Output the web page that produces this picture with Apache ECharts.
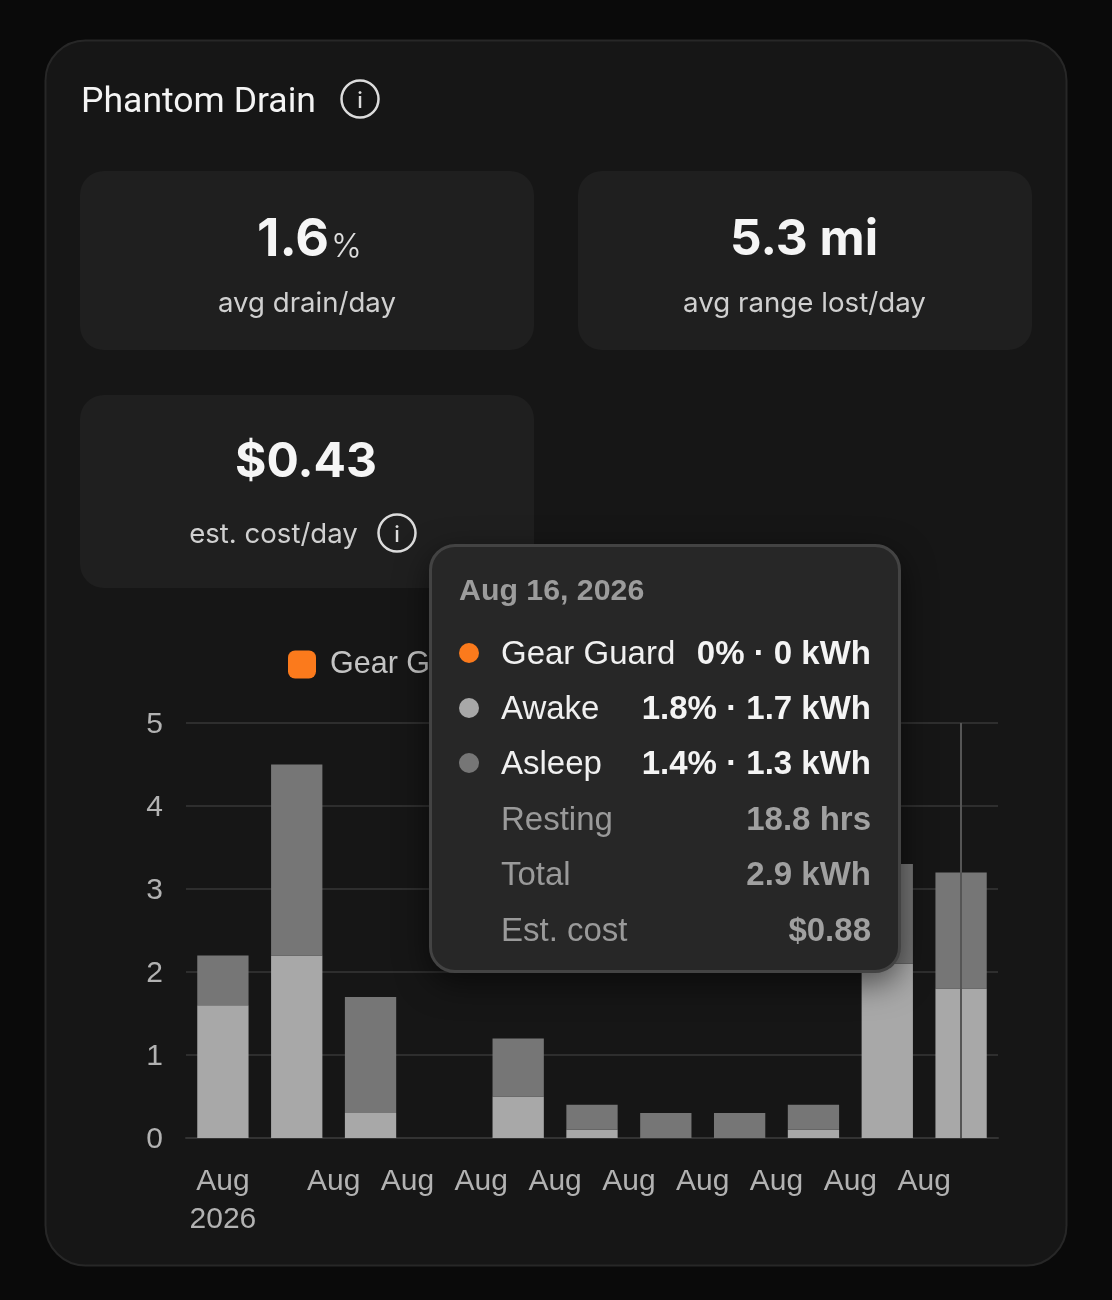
<!DOCTYPE html>
<html><head><meta charset="utf-8">
<style>html,body{margin:0;padding:0;background:#0a0a0a}#c{width:1112px;height:1300px}</style>
<script src="https://cdn.jsdelivr.net/npm/echarts@6/dist/echarts.min.js"></script>
</head><body><div id="c"></div>
<script>
const categories = ["Aug 6","Aug 7","Aug 8","Aug 9","Aug 10","Aug 11","Aug 12","Aug 13","Aug 14","Aug 15","Aug 16"];
const gearGuard = [0,0,0,0,0,0,0,0,0,0,0];
const awake  = [1.6,2.2,0.3,0,0.5,0.1,0,0,0.1,2.1,1.8];
const asleep = [0.6,2.3,1.4,0,0.7,0.3,0.3,0.3,0.3,1.2,1.4];
const centerTicks = ["Aug\n2026","","","","","","","","","",""];
const edgeTicks = ["","","Aug","Aug","Aug","Aug","Aug","Aug","Aug","Aug","Aug",""];
const seriesNames = ["Gear Guard","Awake","Asleep"];
const seriesColors = ["#fb7a1c","#a8a8a8","#767676"];
const tipDate = "Aug 16, 2026";
const tipKwh = ["0","1.7","1.3"];
const tipPct = [gearGuard[10],awake[10],asleep[10]];
const tipExtra = [["Resting","18.8 hrs"],["Total","2.9 kWh"],["Est. cost","$0.88"]];

const SANS = '"Liberation Sans", Arial, sans-serif';
const INTER = 'Inter, sans-serif';

function box(x,y,w,h,r,fill,stroke,lw){
  return {type:'rect',z:-10,silent:true,shape:{x,y,width:w,height:h,r},style:{fill,stroke:stroke||null,lineWidth:lw||0}};
}
function txt(x,y,text,font,fill,align){
  return {type:'text',z:-5,silent:true,style:{x,y,text,font,fill,align:align||'center',verticalAlign:'middle'}};
}
function info(cx,cy){
  return [
    {type:'circle',z:-5,silent:true,shape:{cx,cy,r:18.5},style:{fill:'none',stroke:'#dcdcdc',lineWidth:2.5}},
    txt(cx,cy+2,'i','500 22px '+INTER,'#dcdcdc')
  ];
}
const graphicEls = [
  box(45.5,40.5,1021,1225,40,'#161616','#272727',2),
  box(80,171,454,179,24,'#1f1f1f'),
  box(578,171,454,179,24,'#1f1f1f'),
  box(80,395,454,193,24,'#1f1f1f'),
  txt(81,103,'Phantom Drain','400 35.6px Roboto, sans-serif','#f4f4f4','left'),
  ...info(360,99),
  txt(329,240,'1.6','700 52px '+INTER,'#f5f5f5','right'),
  txt(331,247,'%','300 33px '+INTER,'#e0e0e0','left'),
  txt(307,304,'avg drain/day','400 27.6px '+INTER,'#d0d0d0'),
  txt(804,240,'5.3 mi','700 49.5px '+INTER,'#f5f5f5'),
  txt(804.5,304,'avg range lost/day','400 27.7px '+INTER,'#d0d0d0'),
  txt(306,463,'$0.43','700 48px '+INTER,'#f5f5f5'),
  txt(273.5,535,'est. cost/day','400 27.6px '+INTER,'#d0d0d0'),
  ...info(397,533)
];

function tipHtml(){
  const rows = seriesNames.map((n,i)=>
    `<div style="display:flex;align-items:center;height:55.4px">
       <span style="width:20px;height:20px;border-radius:50%;background:${seriesColors[i]};margin-right:22px;flex:none"></span>
       <span style="color:#f0f0f0;font-weight:400;flex:1">${n}</span>
       <span style="color:#f4f4f4;font-weight:700">${tipPct[i]}% · ${tipKwh[i]} kWh</span>
     </div>`).join('');
  const extra = tipExtra.map(r=>
    `<div style="display:flex;align-items:center;height:55.4px;padding-left:42px">
       <span style="color:#9a9a9a;flex:1">${r[0]}</span>
       <span style="color:#a0a0a0;font-weight:700">${r[1]}</span>
     </div>`).join('');
  return `<div style="font:400 33px ${SANS.replace(/"/g,"'")};line-height:40px;white-space:nowrap">
    <div style="font-size:30.3px;font-weight:700;color:#9c9c9c;height:36px;line-height:36px;margin-bottom:17px">${tipDate}</div>${rows}${extra}</div>`;
}

const chart = echarts.init(document.getElementById('c'),null,{renderer:'canvas',width:1112,height:1300});
chart.setOption({
  animation:false,
  backgroundColor:'#0a0a0a',
  textStyle:{fontFamily:SANS},
  graphic:{elements:graphicEls},
  color:seriesColors,
  legend:{
    data:seriesNames,left:283,top:644,itemWidth:28,itemHeight:28,itemGap:30,icon:'roundRect',
    selectedMode:false,textStyle:{color:'#c4c4c4',fontSize:30.5,fontFamily:SANS,padding:[2,0,0,9]}
  },
  grid:{left:186,right:114,top:723,bottom:162,containLabel:false},
  tooltip:{
    trigger:'axis',alwaysShowContent:true,transitionDuration:0,showDelay:0,hideDelay:0,
    position:()=>[429,544],
    backgroundColor:'#272727',borderColor:'#434343',borderWidth:3,padding:[25,27,13,27],
    extraCssText:'border-radius:26px;box-shadow:0 10px 32px rgba(0,0,0,.55);width:412px;box-sizing:content-box;',
    axisPointer:{type:'line',lineStyle:{color:'#555555',width:2,type:'solid'},label:{show:false}},
    formatter:tipHtml
  },
  xAxis:[
    {type:'category',data:categories,boundaryGap:true,
     axisLine:{show:true,lineStyle:{color:'#333333',width:2}},axisTick:{show:false},splitLine:{show:false},
     axisLabel:{interval:0,margin:25,color:'#b2b2b2',fontSize:30,lineHeight:38,fontFamily:SANS,
       formatter:(v,i)=>centerTicks[i]}},
    {type:'category',position:'bottom',data:edgeTicks.map((t,i)=>String(i)),boundaryGap:false,
     axisLine:{show:false},axisTick:{show:false},splitLine:{show:false},axisPointer:{show:false},
     axisLabel:{interval:0,margin:25,color:'#b2b2b2',fontSize:30,lineHeight:38,fontFamily:SANS,
       formatter:(v,i)=>edgeTicks[i]}}
  ],
  yAxis:{type:'value',min:0,max:5,interval:1,
    axisLine:{show:false},axisTick:{show:false},
    splitLine:{lineStyle:{color:'#2e2e2e',width:2}},
    axisLabel:{margin:23,color:'#b2b2b2',fontSize:30,fontFamily:SANS,
      formatter:'{v|{value}}',rich:{v:{fontSize:30,fontFamily:SANS,color:'#b2b2b2',padding:[4,0,0,0]}}}},
  series:[
    {name:seriesNames[0],type:'bar',stack:'d',barWidth:'69.5%',data:gearGuard,emphasis:{disabled:true},itemStyle:{color:seriesColors[0]}},
    {name:seriesNames[1],type:'bar',stack:'d',barWidth:'69.5%',data:awake,emphasis:{disabled:true},itemStyle:{color:seriesColors[1]}},
    {name:seriesNames[2],type:'bar',stack:'d',barWidth:'69.5%',data:asleep,emphasis:{disabled:true},itemStyle:{color:seriesColors[2]}}
  ]
});
chart.dispatchAction({type:'showTip',seriesIndex:1,dataIndex:10});
</script></body></html>
